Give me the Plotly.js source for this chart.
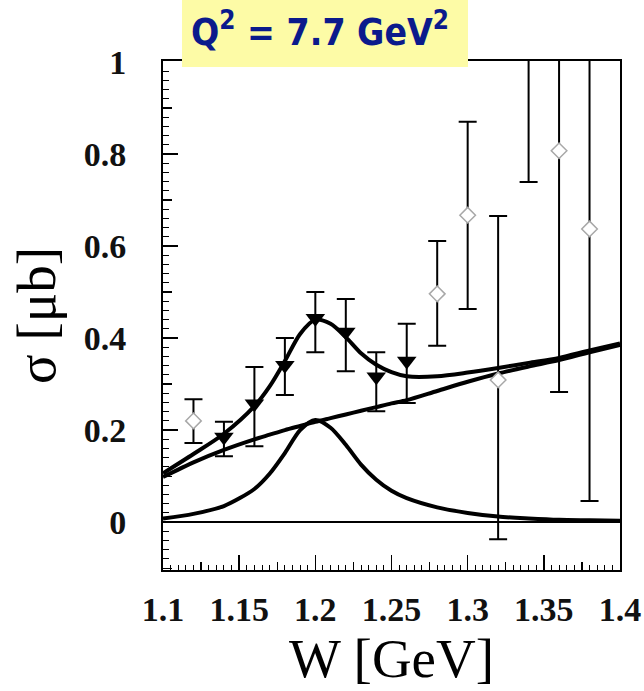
<!DOCTYPE html>
<html>
<head>
<meta charset="utf-8">
<script src="https://cdn.plot.ly/plotly-3.0.1.min.js"></script>
<style>html,body{margin:0;padding:0;background:#fff;}#plot{width:644px;height:691px;}</style>
</head>
<body>
<div id="plot"></div>
<script>
// ---- data ----
// filled triangles (data with error bars)
var triW  = [1.14, 1.16, 1.18, 1.20, 1.22, 1.24, 1.26];
var triS  = [0.185, 0.257, 0.341, 0.443, 0.413, 0.316, 0.350];
var triHi = [0.218, 0.337, 0.400, 0.500, 0.485, 0.369, 0.431];
var triLo = [0.143, 0.165, 0.276, 0.369, 0.328, 0.241, 0.259];

// open diamonds
var diaW  = [1.12, 1.28, 1.30, 1.32, 1.34, 1.36, 1.38];
var diaS  = [0.220, 0.496, 0.667, 0.309, 1.100, 0.807, 0.637];
var diaHi = [0.267, 0.611, 0.870, 0.665, 1.400, 1.300, 1.300];
var diaLo = [0.172, 0.383, 0.463, -0.037, 0.739, 0.283, 0.046];

// curves
var curveW = [1.10, 1.12, 1.14, 1.16, 1.17, 1.18, 1.19, 1.20, 1.21, 1.22, 1.23, 1.24, 1.25, 1.26, 1.28, 1.30, 1.32, 1.34, 1.36, 1.38, 1.40];
var bgS    = [0.098, 0.130, 0.157, 0.180, 0.190, 0.200, 0.209, 0.218, 0.226, 0.234, 0.242, 0.250, 0.258, 0.265, 0.285, 0.305, 0.323, 0.338, 0.352, 0.369, 0.385];
var resS   = [0.008, 0.018, 0.035, 0.072, 0.105, 0.150, 0.200, 0.222, 0.205, 0.168, 0.125, 0.092, 0.068, 0.052, 0.032, 0.020, 0.012, 0.008, 0.005, 0.004, 0.003];
var totS   = [0.106, 0.148, 0.192, 0.252, 0.295, 0.350, 0.409, 0.440, 0.431, 0.402, 0.367, 0.342, 0.326, 0.317, 0.317, 0.325, 0.335, 0.346, 0.357, 0.373, 0.388];

// axes ticks
var xTicks = [1.1, 1.15, 1.2, 1.25, 1.3, 1.35, 1.4];
var xTickText = ['1.1', '1.15', '1.2', '1.25', '1.3', '1.35', '1.4'];
var xMidTicks = [1.125, 1.175, 1.225, 1.275, 1.325, 1.375];
var yTicks = [0, 0.2, 0.4, 0.6, 0.8, 1];
var yTickText = ['0', '0.2', '0.4', '0.6', '0.8', '1'];
var yMidTicks = [-0.1, 0.1, 0.3, 0.5, 0.7, 0.9];

function sub(a, b) { return a.map(function (v, i) { return v - b[i]; }); }

var lineStyle = {color: '#000', width: 4, shape: 'spline', smoothing: 0.8};

var traces = [
  {x: curveW, y: bgS, mode: 'lines', line: lineStyle, hoverinfo: 'skip', showlegend: false},
  {x: curveW, y: resS, mode: 'lines', line: lineStyle, hoverinfo: 'skip', showlegend: false},
  {x: curveW, y: totS, mode: 'lines', line: lineStyle, hoverinfo: 'skip', showlegend: false},
  {x: diaW, y: diaS, mode: 'markers', type: 'scatter',
   marker: {symbol: 'diamond', size: 12, color: '#fff', line: {color: '#a8a8a8', width: 1.5}},
   error_y: {type: 'data', symmetric: false, array: sub(diaHi, diaS), arrayminus: sub(diaS, diaLo),
             color: '#000', thickness: 2, width: 9},
   showlegend: false},
  {x: triW, y: triS, mode: 'markers', type: 'scatter',
   marker: {symbol: 'triangle-down', size: 17, color: '#000'},
   error_y: {type: 'data', symmetric: false, array: sub(triHi, triS), arrayminus: sub(triS, triLo),
             color: '#000', thickness: 2, width: 9},
   showlegend: false},
  // carriers for the medium-length tick axes
  {x: [1.2], y: [0.5], xaxis: 'x2', yaxis: 'y', mode: 'markers', marker: {opacity: 0}, hoverinfo: 'skip', showlegend: false},
  {x: [1.2], y: [0.5], xaxis: 'x', yaxis: 'y2', mode: 'markers', marker: {opacity: 0}, hoverinfo: 'skip', showlegend: false}
];

var tickFont = {family: 'Liberation Serif', size: 34, color: '#111', weight: 'bold'};
var xr = [1.1, 1.4];
var yr = [-0.104, 1.002];

var layout = {
  width: 644, height: 691,
  margin: {l: 163, r: 24, t: 61, b: 121},
  paper_bgcolor: '#fff', plot_bgcolor: '#fff',
  showlegend: false,
  xaxis: {
    range: xr, showgrid: false, zeroline: false,
    showline: true, linecolor: '#000', linewidth: 2, mirror: true,
    tickmode: 'array', tickvals: xTicks, ticktext: xTickText,
    ticks: 'inside', ticklen: 15, tickwidth: 1.5, tickcolor: '#000',
    ticklabelstandoff: 8,
    minor: {tick0: 1.1, dtick: 0.005, ticks: 'inside', ticklen: 5, tickwidth: 1, tickcolor: '#000', showgrid: false},
    tickfont: tickFont,
    title: {text: 'W [GeV]', font: {family: 'Liberation Serif', size: 55, color: '#000'}, standoff: 8},
    automargin: false
  },
  xaxis2: {
    range: xr, overlaying: 'x', anchor: 'y', side: 'bottom',
    showgrid: false, zeroline: false, showline: false,
    tickmode: 'array', tickvals: xMidTicks, showticklabels: false,
    ticks: 'inside', ticklen: 8, tickwidth: 1.2, tickcolor: '#000'
  },
  yaxis: {
    range: yr, showgrid: false,
    zeroline: true, zerolinecolor: '#000', zerolinewidth: 2,
    showline: true, linecolor: '#000', linewidth: 2, mirror: true,
    tickmode: 'array', tickvals: yTicks, ticktext: yTickText,
    ticks: 'inside', ticklen: 15, tickwidth: 1.5, tickcolor: '#000',
    ticklabelstandoff: 28,
    minor: {tick0: 0, dtick: 0.02, ticks: 'inside', ticklen: 6, tickwidth: 1, tickcolor: '#000', showgrid: false},
    tickfont: tickFont,
    title: {text: 'σ [μb]', font: {family: 'Liberation Serif', size: 55, color: '#000'}, standoff: 10},
    automargin: false
  },
  yaxis2: {
    range: yr, overlaying: 'y', anchor: 'x', side: 'left',
    showgrid: false, zeroline: false, showline: false,
    tickmode: 'array', tickvals: yMidTicks, showticklabels: false,
    ticks: 'inside', ticklen: 9, tickwidth: 1.2, tickcolor: '#000'
  },
  shapes: [
    {type: 'rect', xref: 'paper', yref: 'paper', x0: 0.0416, x1: 0.6674, y0: 0.988, y1: 1.13,
     fillcolor: '#fdfba6', line: {width: 0}, layer: 'above'}
  ],
  annotations: [
    {xref: 'paper', yref: 'paper', x: 0.3435, y: 1.062, xanchor: 'center', yanchor: 'middle',
     text: 'Q<sup>2</sup> = 7.7 GeV<sup>2</sup>', showarrow: false,
     font: {family: 'DejaVu Sans Condensed, DejaVu Sans', size: 37, color: '#0b1a8c', weight: 'bold'}}
  ]
};

Plotly.newPlot('plot', traces, layout, {displayModeBar: false, staticPlot: true});
</script>
</body>
</html>
